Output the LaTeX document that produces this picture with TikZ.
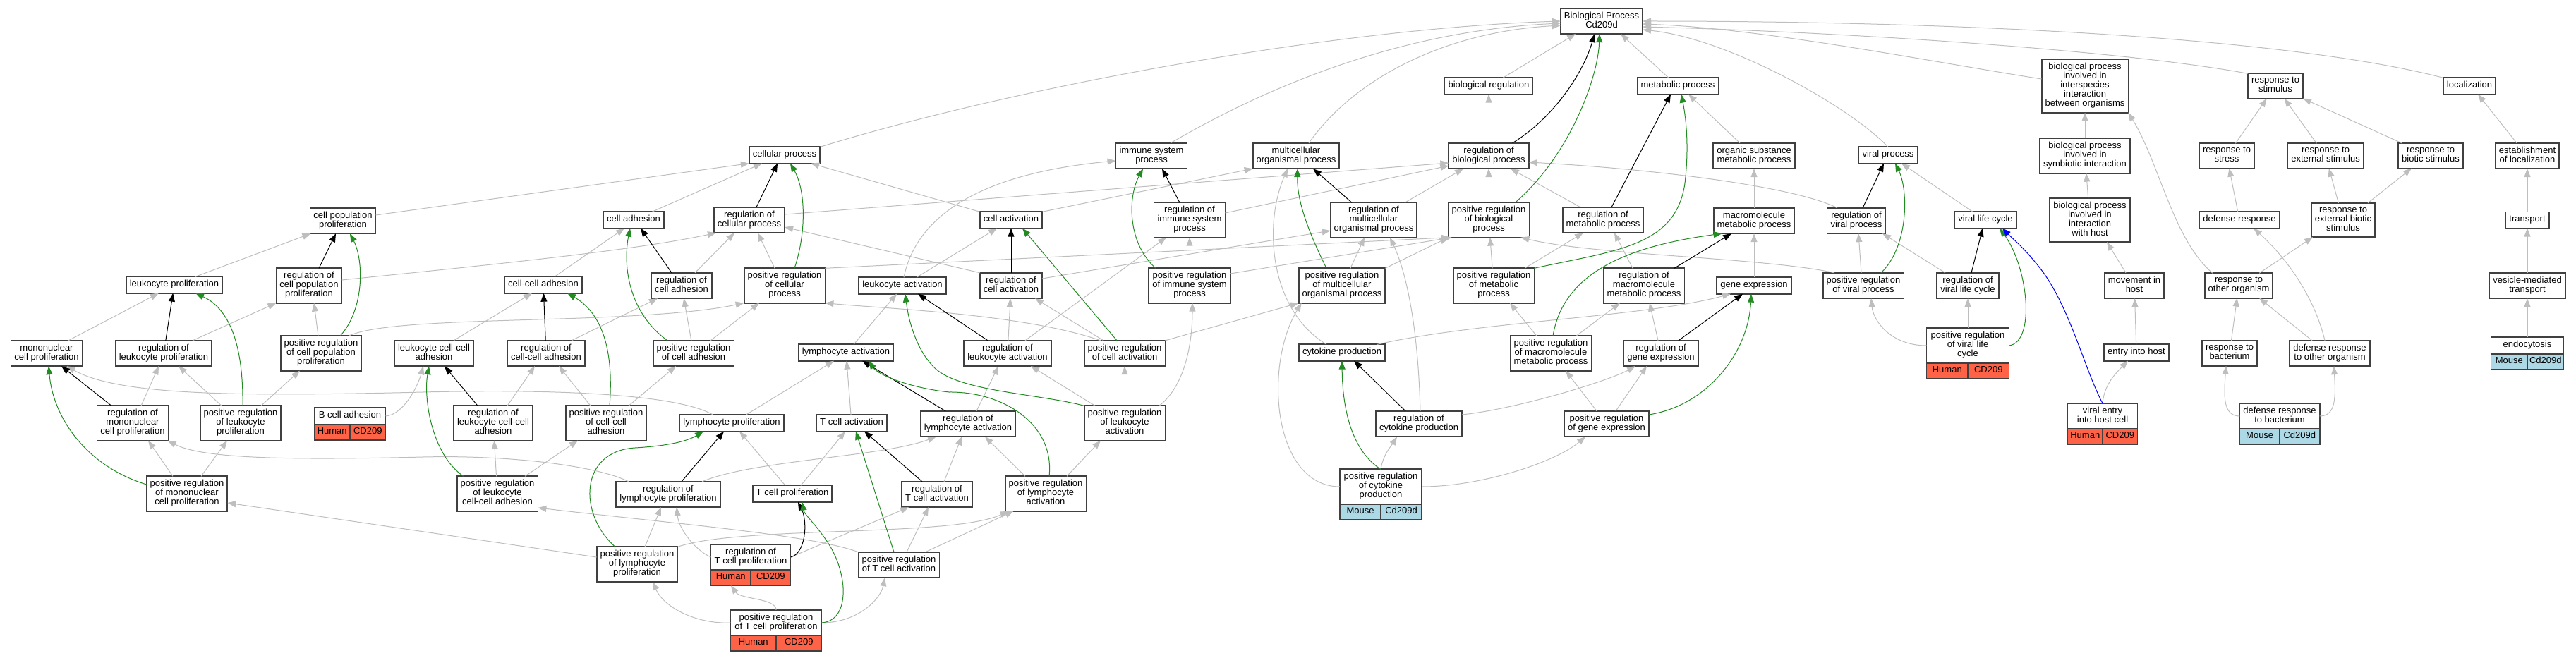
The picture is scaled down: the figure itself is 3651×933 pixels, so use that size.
\documentclass[tikz,border=0pt]{standalone}
\usepackage{fontspec}
\setmainfont{Liberation Sans}
\usepackage{xcolor}
\usetikzlibrary{arrows.meta,calc}
\definecolor{edgegray}{RGB}{190,190,190}
\definecolor{posgreen}{RGB}{34,139,34}
\definecolor{humanred}{RGB}{255,99,71}
\definecolor{mouseblue}{RGB}{173,216,230}
\definecolor{boxline}{gray}{0.25}

\tikzset{
    term/.style={draw=boxline, line width=1.8pt, fill=white, align=center,
        inner xsep=5pt, inner ysep=5pt, outer sep=0pt,
        font=\fontsize{13}{13}\selectfont,
        execute at begin node=\strut, execute at end node=\strut},
    human/.style={draw=boxline, line width=1.8pt, fill=humanred,
        inner sep=0pt, outer sep=0pt, minimum height=22pt,
        font=\fontsize{13}{13}\selectfont, text height=9.1pt, text depth=3.9pt},
    mouse/.style={human, fill=mouseblue},
    isa/.style={draw=edgegray, line width=1pt, -{Triangle[length=12pt,width=9pt]}},
    regs/.style={isa, draw=black},
    posregs/.style={isa, draw=posgreen},
    partof/.style={isa, draw=blue}
}

% species row under an annotated term
\newcommand{\taxa}[4]{%
    \path let \p1=($(#1.east)-(#1.west)$) in
        node [#2, anchor=north east, minimum width=0.5*\x1] (#1-a) at (#1.south) {#3}
        node [#2, anchor=north west, minimum width=0.5*\x1] (#1-b) at (#1.south) {#4};
}

\begin{document}
\begin{tikzpicture}[x=1pt, y=-1pt]
    \useasboundingbox (0,0) rectangle (3651,933);

    % terms, rank by rank
    \node [term] (bp) at (2270,30) {Biological Process\\Cd209d};

    \node [term] (bioreg) at (2110,122) {biological regulation};
    \node [term] (metab) at (2378,122) {metabolic process};
    \node [term] (interspec) at (2955,122) {biological process\\involved in\\interspecies\\interaction\\between organisms};
    \node [term] (resstim) at (3225,122) {response to\\stimulus};
    \node [term] (local) at (3500,122) {localization};

    \node [term] (cellproc) at (1112,220) {cellular process};
    \node [term] (immune) at (1632,221) {immune system\\process};
    \node [term] (multi) at (1837,221) {multicellular\\organismal process};
    \node [term] (regbio) at (2110,221) {regulation of\\biological process};
    \node [term] (orgsub) at (2486,221) {organic substance\\metabolic process};
    \node [term] (viral) at (2676,220) {viral process};
    \node [term] (symb) at (2955,221) {biological process\\involved in\\symbiotic interaction};
    \node [term] (resstress) at (3156,221) {response to\\stress};
    \node [term] (resext) at (3296,221) {response to\\external stimulus};
    \node [term] (resbiotic) at (3445,221) {response to\\biotic stimulus};
    \node [term] (estloc) at (3582,221) {establishment\\of localization};

    \node [term] (cellpop) at (486,313) {cell population\\proliferation};
    \node [term] (celladh) at (898,312) {cell adhesion};
    \node [term] (regcellproc) at (1062,312) {regulation of\\cellular process};
    \node [term] (cellact) at (1433,312) {cell activation};
    \node [term] (regimmune) at (1686,312) {regulation of\\immune system\\process};
    \node [term] (regmulti) at (1947,312) {regulation of\\multicellular\\organismal process};
    \node [term] (posbio) at (2110,312) {positive regulation\\of biological\\process};
    \node [term] (regmetab) at (2272,312) {regulation of\\metabolic process};
    \node [term] (macro) at (2486,313) {macromolecule\\metabolic process};
    \node [term] (regviral) at (2631,313) {regulation of\\viral process};
    \node [term] (vlc) at (2814,312) {viral life cycle};
    \node [term] (hostint) at (2962,312) {biological process\\involved in\\interaction\\with host};
    \node [term] (defresp) at (3174,312) {defense response};
    \node [term] (resextbiotic) at (3321,312) {response to\\external biotic\\stimulus};
    \node [term] (transport) at (3582,312) {transport};

    \node [term] (leukprolif) at (247,404) {leukocyte proliferation};
    \node [term] (regcellpop) at (438,405) {regulation of\\cell population\\proliferation};
    \node [term] (ccadh) at (770,404) {cell-cell adhesion};
    \node [term] (regcelladh) at (966,405) {regulation of\\cell adhesion};
    \node [term] (poscellproc) at (1112,405) {positive regulation\\of cellular\\process};
    \node [term] (leukact) at (1279,405) {leukocyte activation};
    \node [term] (regcellact) at (1433,405) {regulation of\\cell activation};
    \node [term] (posimmune) at (1686,405) {positive regulation\\of immune system\\process};
    \node [term] (posmulti) at (1902,405) {positive regulation\\of multicellular\\organismal process};
    \node [term] (posmetab) at (2117,405) {positive regulation\\of metabolic\\process};
    \node [term] (regmacro) at (2330,405) {regulation of\\macromolecule\\metabolic process};
    \node [term] (geneexp) at (2486,405) {gene expression};
    \node [term] (posviral) at (2641,405) {positive regulation\\of viral process};
    \node [term] (regvlc) at (2789,405) {regulation of\\viral life cycle};
    \node [term] (movhost) at (3025,405) {movement in\\host};
    \node [term] (resother) at (3173,405) {response to\\other organism};
    \node [term] (vesicle) at (3582,405) {vesicle-mediated\\transport};

    \node [term] (mononuc) at (66,501) {mononuclear\\cell proliferation};
    \node [term] (regleukprolif) at (232,501) {regulation of\\leukocyte proliferation};
    \node [term] (poscellpop) at (455,501) {positive regulation\\of cell population\\proliferation};
    \node [term] (leukccadh) at (615,501) {leukocyte cell-cell\\adhesion};
    \node [term] (regccadh) at (774,501) {regulation of\\cell-cell adhesion};
    \node [term] (poscelladh) at (983,501) {positive regulation\\of cell adhesion};
    \node [term] (lymphact) at (1199,500) {lymphocyte activation};
    \node [term] (regleukact) at (1428,501) {regulation of\\leukocyte activation};
    \node [term] (poscellact) at (1594,501) {positive regulation\\of cell activation};
    \node [term] (cytok) at (1902,500) {cytokine production};
    \node [term] (posmacro) at (2198,501) {positive regulation\\of macromolecule\\metabolic process};
    \node [term] (reggene) at (2354,501) {regulation of\\gene expression};
    \node [term, minimum width=117pt] (posvlc) at (2789,490) {positive regulation\\of viral life\\cycle};
    \node [term] (entryhost) at (3028,500) {entry into host};
    \node [term] (resbact) at (3160,501) {response to\\bacterium};
    \node [term] (defother) at (3302,501) {defense response\\to other organism};
    \node [term, minimum width=103pt] (endocyt) at (3582,490) {endocytosis};

    \node [term] (regmononuc) at (188,600) {regulation of\\mononuclear\\cell proliferation};
    \node [term] (posleukprolif) at (341,600) {positive regulation\\of leukocyte\\proliferation};
    \node [term, minimum width=101pt] (bcelladh) at (496,590) {B cell adhesion};
    \node [term] (regleukccadh) at (699,600) {regulation of\\leukocyte cell-cell\\adhesion};
    \node [term] (posccadh) at (859,600) {positive regulation\\of cell-cell\\adhesion};
    \node [term] (lymphprolif) at (1037,600) {lymphocyte proliferation};
    \node [term] (tcellact) at (1207,600) {T cell activation};
    \node [term] (reglymphact) at (1372,601) {regulation of\\lymphocyte activation};
    \node [term] (posleukact) at (1594,600) {positive regulation\\of leukocyte\\activation};
    \node [term] (regcytok) at (2011,601) {regulation of\\cytokine production};
    \node [term] (posgene) at (2277,601) {positive regulation\\of gene expression};
    \node [term, minimum width=99pt] (viralentry) at (2980,590) {viral entry\\into host cell};
    \node [term, minimum width=113pt] (defbact) at (3231,590) {defense response\\to bacterium};

    \node [term] (posmononuc) at (265,700) {positive regulation\\of mononuclear\\cell proliferation};
    \node [term] (posleukccadh) at (705,700) {positive regulation\\of leukocyte\\cell-cell adhesion};
    \node [term] (reglymphprolif) at (947,701) {regulation of\\lymphocyte proliferation};
    \node [term] (tcellprolif) at (1123,700) {T cell proliferation};
    \node [term] (regtcellact) at (1328,701) {regulation of\\T cell activation};
    \node [term] (poslymphact) at (1482,700) {positive regulation\\of lymphocyte\\activation};
    \node [term, minimum width=116pt] (poscytok) at (1957,690) {positive regulation\\of cytokine\\production};

    \node [term] (poslymphprolif) at (903,800) {positive regulation\\of lymphocyte\\proliferation};
    \node [term, minimum width=113pt] (regtcellprolif) at (1064,790) {regulation of\\T cell proliferation};
    \node [term] (postcellact) at (1274,801) {positive regulation\\of T cell activation};

    \node [term, minimum width=129pt] (postcellprolif) at (1100,883) {positive regulation\\of T cell proliferation};

    % annotations
    \taxa{bcelladh}{human}{Human}{CD209}
    \taxa{posvlc}{human}{Human}{CD209}
    \taxa{viralentry}{human}{Human}{CD209}
    \taxa{regtcellprolif}{human}{Human}{CD209}
    \taxa{postcellprolif}{human}{Human}{CD209}
    \taxa{poscytok}{mouse}{Mouse}{Cd209d}
    \taxa{defbact}{mouse}{Mouse}{Cd209d}
    \taxa{endocyt}{mouse}{Mouse}{Cd209d}

    % is_a
    \draw [isa] ([xshift=20pt]bioreg.north) -- ([xshift=-37pt]bp.south);
    \draw [isa] ([xshift=-13pt]metab.north) -- ([xshift=27pt]bp.south);
    \draw [isa] ([yshift=10pt]interspec.west) .. controls (2750,90) and (2500,40) .. ([yshift=-4pt]bp.east);
    \draw [isa] (resstim.north west) .. controls (3000,70) and (2600,45) .. ([yshift=-8pt]bp.east);
    \draw [isa] (local.north west) .. controls (3250,55) and (2800,30) .. (bp.east);
    \draw [isa] (viral.north) .. controls (2620,150) and (2450,55) .. ([yshift=-12pt]bp.east);
    \draw [isa] (cellproc.north east) .. controls (1450,120) and (1900,40) .. (bp.west);
    \draw [isa] ([xshift=27pt]immune.north) .. controls (1750,150) and (1950,45) .. ([yshift=-3pt]bp.west);
    \draw [isa] ([xshift=18pt]multi.north) .. controls (1920,110) and (2050,45) .. ([yshift=-6pt]bp.west);
    \draw [isa] (regbio) -- (bioreg);
    \draw [isa] (posbio) -- (regbio);
    \draw [isa] ([xshift=-20pt]orgsub.north) -- ([xshift=15pt]metab.south);
    \draw [isa] (macro) -- (orgsub);
    \draw [isa] (geneexp) -- (macro);
    \draw [isa] ([xshift=-16pt]regmacro.north) -- ([xshift=16pt]regmetab.south);
    \draw [isa] ([xshift=-4pt]reggene.north) -- ([xshift=8pt]regmacro.south);
    \draw [isa] ([xshift=36pt]posmacro.north) -- ([xshift=-34pt]regmacro.south);
    \draw [isa] ([xshift=-20pt]posmacro.north) -- ([xshift=23pt]posmetab.south);
    \draw [isa] ([xshift=13pt]posgene.north) -- ([xshift=-20pt]reggene.south);
    \draw [isa] ([xshift=-14pt]posgene.north) -- ([xshift=21pt]posmacro.south);
    \draw [isa] ([xshift=44pt]posmetab.north) -- ([xshift=-28pt]regmetab.south);
    \draw [isa] (posmetab) -- (posbio);
    \draw [isa] ([xshift=-32pt]regmetab.north) -- ([xshift=31pt]regbio.south);
    \draw [isa] ([xshift=44pt]regmulti.north) -- ([xshift=-36pt]regbio.south);
    \draw [isa] ([xshift=12pt]posmulti.north) -- ([xshift=-13pt]regmulti.south);
    \draw [isa] (posmulti.north east) -- (posbio.south west);
    \draw [isa] ([xshift=-22pt]cytok.north) .. controls (1800,440) and (1790,320) .. ([xshift=-12pt]multi.south);
    \draw [isa] ([xshift=50pt]cytok.north) .. controls (2100,455) and (2330,450) .. ([xshift=-33pt]geneexp.south);
    \draw [isa] ([xshift=2pt]regcytok.north) .. controls (2010,470) and (1995,390) .. ([xshift=23pt]regmulti.south);
    \draw [isa] ([yshift=13pt]regcytok.east) .. controls (2150,580) and (2280,540) .. ([xshift=-36pt]reggene.south);
    \draw [isa] (poscytok.north) .. controls (1960,645) and (1972,632) .. ([xshift=-31pt]regcytok.south);
    \draw [isa] (poscytok.east) .. controls (2100,690) and (2205,655) .. ([xshift=-30pt]posgene.south);
    \draw [isa] (poscytok.west) .. controls (1805,690) and (1790,520) .. ([xshift=4pt]posmulti.south west);
    \draw [isa] (cellact.north east) -- (multi.south west);
    \draw [isa] ([yshift=10pt]regcellact.east) -- ([yshift=-15pt]regmulti.west);
    \draw [isa] (poscellact.north east) -- (posmulti.south west);
    \draw [isa] ([yshift=8pt]regcellproc.east) -- ([yshift=-10pt]regbio.west);
    \draw [isa] ([yshift=10pt]regimmune.east) -- ([yshift=-14pt]regbio.west);
    \draw [isa] ([xshift=-27pt]regviral.north) .. controls (2545,265) and (2350,240) .. ([yshift=-9pt]regbio.east);
    \draw [isa] (poscellproc.north east) -- ([xshift=2pt]posbio.south west);
    \draw [isa] ([yshift=17pt]posimmune.east) -- ([xshift=5pt]posbio.south west);
    \draw [isa] ([xshift=-41pt]posviral.north) .. controls (2500,365) and (2260,362) .. ([xshift=-12pt]posbio.south east);
    \draw [isa] ([xshift=-3pt]posviral.north) -- ([xshift=3pt]regviral.south);
    \draw [isa] ([xshift=-18pt]vlc.north) -- ([xshift=19pt]viral.south);
    \draw [isa] ([xshift=-32pt]regvlc.north) -- ([xshift=37pt]regviral.south);
    \draw [isa] (posvlc) -- (regvlc);
    \draw [isa] (posvlc.west) .. controls (2680,490) and (2655,455) .. ([xshift=11pt]posviral.south);
    \draw [isa] (viralentry.north) .. controls (2982,545) and (3000,528) .. ([xshift=-12pt]entryhost.south);
    \draw [isa] (entryhost) -- (movhost);
    \draw [isa] ([xshift=-12pt]movhost.north) -- ([xshift=24pt]hostint.south);
    \draw [isa] (hostint) -- (symb);
    \draw [isa] (symb) -- (interspec);
    \draw [isa] ([xshift=-37pt]resother.north) .. controls (3080,340) and (3060,230) .. (interspec.south east);
    \draw [isa] ([xshift=29pt]resother.north) -- ([xshift=-43pt]resextbiotic.south);
    \draw [isa] (resbact) -- (resother);
    \draw [isa] ([xshift=-25pt]defother.north) -- ([xshift=29pt]resother.south);
    \draw [isa] ([xshift=-7pt]defother.north) .. controls (3280,420) and (3240,365) .. ([xshift=20pt]defresp.south);
    \draw [isa] (defbact.west) .. controls (3150,590) and (3152,560) .. ([xshift=-5pt]resbact.south);
    \draw [isa] (defbact.east) .. controls (3312,590) and (3310,560) .. ([xshift=6pt]defother.south);
    \draw [isa] (defresp) -- (resstress);
    \draw [isa] (resextbiotic) -- (resext);
    \draw [isa] ([xshift=35pt]resextbiotic.north) -- ([xshift=-27pt]resbiotic.south);
    \draw [isa] (resstress) -- (resstim);
    \draw [isa] (resext) -- (resstim);
    \draw [isa] ([xshift=-40pt]resbiotic.north) -- (resstim.south east);
    \draw [isa] ([xshift=-15pt]estloc.north) -- ([xshift=12pt]local.south);
    \draw [isa] (transport) -- (estloc);
    \draw [isa] (vesicle) -- (transport);
    \draw [isa] (endocyt) -- (vesicle);
    \draw [isa] (posimmune) -- (regimmune);
    \draw [isa] ([xshift=25pt]regleukact.north) -- ([xshift=-33pt]regimmune.south);
    \draw [isa] ([xshift=49pt]posleukact.north) .. controls (1682,545) and (1690,480) .. ([xshift=4pt]posimmune.south);
    \draw [isa] ([xshift=2pt]leukact.north) .. controls (1300,300) and (1400,245) .. ([yshift=-7pt]immune.west);
    \draw [isa] ([xshift=20pt]leukact.north) -- ([xshift=-20pt]cellact.south);
    \draw [isa] (cellact.north west) -- ([xshift=-13pt]cellproc.south east);
    \draw [isa] (regcellact.north west) -- ([yshift=-10pt]regcellproc.east);
    \draw [isa] ([xshift=-30pt]poscellact.north) -- ([xshift=34pt]regcellact.south);
    \draw [isa] ([xshift=-34pt]poscellact.north) .. controls (1450,445) and (1260,438) .. (poscellproc.south east);
    \draw [isa] ([xshift=11pt]lymphact.north) -- ([xshift=-8pt]leukact.south);
    \draw [isa] (regleukact) -- (regcellact);
    \draw [isa] ([xshift=-42pt]posleukact.north) -- ([xshift=33pt]regleukact.south);
    \draw [isa] (posleukact) -- (poscellact);
    \draw [isa] ([xshift=12pt]reglymphact.north) -- ([xshift=-13pt]regleukact.south);
    \draw [isa] ([xshift=-29pt]poslymphact.north) -- ([xshift=24pt]reglymphact.south);
    \draw [isa] ([xshift=30pt]poslymphact.north) -- ([xshift=-34pt]posleukact.south);
    \draw [isa] (tcellact) -- (lymphact);
    \draw [isa] ([xshift=20pt]lymphprolif.north) -- ([xshift=-17pt]lymphact.south);
    \draw [isa] ([xshift=-10pt]tcellprolif.north) -- ([xshift=11pt]lymphprolif.south);
    \draw [isa] ([xshift=12pt]tcellprolif.north) -- ([xshift=-9pt]tcellact.south);
    \draw [isa] ([xshift=10pt]regtcellact.north) -- ([xshift=-9pt]reglymphact.south);
    \draw [isa] ([xshift=11pt]postcellact.north) -- ([xshift=-12pt]regtcellact.south);
    \draw [isa] ([xshift=-20pt]postcellact.north east) -- ([xshift=12pt]poslymphact.south west);
    \draw [isa] (postcellact.north west) .. controls (1150,758) and (950,742) .. ([yshift=-20pt]posleukccadh.east);
    \draw [isa] ([xshift=48pt]reglymphprolif.north) .. controls (1070,652) and (1250,648) .. ([xshift=-45pt]reglymphact.south);
    \draw [isa] ([xshift=-56pt]reglymphprolif.north) .. controls (845,660) and (720,645) .. (600,648)
        .. controls (430,652) and (290,652) .. ([xshift=-1pt]regmononuc.south east);
    \draw [isa] ([xshift=-26pt]lymphprolif.north) .. controls (955,556) and (760,552) .. (600,556)
        .. controls (350,562) and (170,562) .. ([xshift=-22pt]mononuc.south east);
    \draw [isa] ([yshift=10pt]poslymphprolif.west) -- ([yshift=-13pt]posmononuc.east);
    \draw [isa] (poslymphprolif.north east) .. controls (1050,745) and (1350,762) .. ([xshift=5pt]poslymphact.south west);
    \draw [isa] ([xshift=11pt]poslymphprolif.north) -- ([xshift=-10pt]reglymphprolif.south);
    \draw [isa] (regtcellprolif.west) .. controls (985,780) and (962,750) .. ([xshift=12pt]reglymphprolif.south);
    \draw [isa] (regtcellprolif.east) -- ([xshift=-40pt]regtcellact.south);
    \draw [isa] (postcellprolif.west) .. controls (985,885) and (940,860) .. ([xshift=22pt]poslymphprolif.south);
    \draw [isa] (postcellprolif.north) .. controls (1100,848) and (1050,850) .. (regtcellprolif-a.south);
    \draw [isa] (postcellprolif.east) .. controls (1215,883) and (1248,850) .. ([xshift=-20pt]postcellact.south);
    \draw [isa] ([yshift=8pt]cellpop.east) -- (cellproc.south west);
    \draw [isa] ([yshift=8pt]regcellpop.east) .. controls (700,375) and (900,355) .. ([xshift=-47pt]regcellproc.south);
    \draw [isa] ([xshift=-4pt]poscellpop.north) -- ([xshift=7pt]regcellpop.south);
    \draw [isa] ([xshift=39pt]poscellpop.north) .. controls (560,445) and (900,462) .. (poscellproc.south west);
    \draw [isa] ([xshift=30pt]leukprolif.north) -- ([xshift=1pt]cellpop.south west);
    \draw [isa] ([xshift=31pt]mononuc.north) -- ([xshift=-22pt]leukprolif.south);
    \draw [isa] ([xshift=41pt]regleukprolif.north) -- (regcellpop.south west);
    \draw [isa] ([xshift=-27pt]posleukprolif.north) -- ([xshift=21pt]regleukprolif.south);
    \draw [isa] ([xshift=29pt]posleukprolif.north) -- ([xshift=-30pt]poscellpop.south);
    \draw [isa] ([xshift=12pt]regmononuc.north) -- ([xshift=-7pt]regleukprolif.south);
    \draw [isa] ([xshift=-20pt]posmononuc.north) -- ([xshift=22pt]regmononuc.south);
    \draw [isa] ([xshift=20pt]posmononuc.north) -- ([xshift=-19pt]posleukprolif.south);
    \draw [isa] (bcelladh.east) .. controls (572,588) and (592,548) .. ([xshift=-15pt]leukccadh.south);
    \draw [isa] ([xshift=28pt]leukccadh.north) -- ([xshift=-16pt]ccadh.south);
    \draw [isa] ([xshift=20pt]regleukccadh.north) -- ([xshift=-16pt]regccadh.south);
    \draw [isa] (posleukccadh) -- (regleukccadh);
    \draw [isa] ([xshift=39pt]posleukccadh.north) -- ([xshift=-40pt]posccadh.south);
    \draw [isa] ([xshift=16pt]ccadh.north) -- ([xshift=-13pt]celladh.south);
    \draw [isa] ([xshift=36pt]regccadh.north) -- ([xshift=-34pt]regcelladh.south);
    \draw [isa] ([xshift=-22pt]posccadh.north) -- ([xshift=18pt]regccadh.south);
    \draw [isa] ([xshift=32pt]posccadh.north) -- ([xshift=-25pt]poscelladh.south);
    \draw [isa] ([xshift=26pt]celladh.north) -- ([xshift=-32pt]cellproc.south);
    \draw [isa] ([xshift=19pt]regcelladh.north) -- ([xshift=-21pt]regcellproc.south);
    \draw [isa] (poscelladh) -- (regcelladh);
    \draw [isa] ([xshift=24pt]poscelladh.north) -- ([xshift=-36pt]poscellproc.south);
    \draw [isa] ([xshift=-14pt]poscellproc.north) -- ([xshift=12pt]regcellproc.south);

    % regulates
    \draw [regs] ([xshift=-23pt]regbio.north east) .. controls (2205,165) and (2245,100) .. ([xshift=-10pt]bp.south);
    \draw [regs] ([xshift=14pt]regcellpop.north) -- ([xshift=-10pt]cellpop.south);
    \draw [regs] (regleukprolif) -- (leukprolif);
    \draw [regs] ([xshift=-30pt]regmononuc.north) -- ([xshift=21pt]mononuc.south);
    \draw [regs] ([xshift=-22pt]regleukccadh.north) -- ([xshift=15pt]leukccadh.south);
    \draw [regs] (regccadh) -- (ccadh);
    \draw [regs] ([xshift=-14pt]regcelladh.north) -- ([xshift=10pt]celladh.south);
    \draw [regs] ([xshift=10pt]regcellproc.north) -- ([xshift=-10pt]cellproc.south);
    \draw [regs] (regcellact) -- (cellact);
    \draw [regs] ([xshift=-28pt]regleukact.north) -- ([xshift=22pt]leukact.south);
    \draw [regs] ([xshift=-32pt]reglymphact.north) -- ([xshift=23pt]lymphact.south);
    \draw [regs] ([xshift=19pt]reglymphprolif.north) -- ([xshift=-11pt]lymphprolif.south);
    \draw [regs] (regtcellprolif.east) .. controls (1142,785) and (1145,740) .. ([xshift=8pt]tcellprolif.south);
    \draw [regs] ([xshift=-21pt]regtcellact.north) -- ([xshift=18pt]tcellact.south);
    \draw [regs] ([xshift=-14pt]regimmune.north) -- ([xshift=15pt]immune.south);
    \draw [regs] ([xshift=-31pt]regmulti.north) -- ([xshift=24pt]multi.south);
    \draw [regs] ([xshift=12pt]regmetab.north) -- ([xshift=-10pt]metab.south);
    \draw [regs] ([xshift=43pt]regmacro.north) -- ([xshift=-32pt]macro.south);
    \draw [regs] ([xshift=25pt]reggene.north) -- ([xshift=-16pt]geneexp.south);
    \draw [regs] ([xshift=-19pt]regcytok.north) -- ([xshift=17pt]cytok.south);
    \draw [regs] ([xshift=9pt]regviral.north) -- ([xshift=-6pt]viral.south);
    \draw [regs] ([xshift=5pt]regvlc.north) -- ([xshift=-4pt]vlc.south);

    % positively regulates
    \draw [posregs] ([xshift=-20pt]posbio.north east) .. controls (2225,220) and (2265,110) .. ([xshift=-3pt]bp.south);
    \draw [posregs] ([xshift=27pt]poscellpop.north) .. controls (516,440) and (516,370) .. ([xshift=10pt]cellpop.south);
    \draw [posregs] ([xshift=3pt]posleukprolif.north) .. controls (345,500) and (330,440) .. ([xshift=30pt]leukprolif.south);
    \draw [posregs] ([yshift=13pt]posmononuc.west) .. controls (120,660) and (75,590) .. ([xshift=3pt]mononuc.south);
    \draw [posregs] ([xshift=-48pt]posleukccadh.north) .. controls (612,645) and (600,565) .. ([xshift=-7pt]leukccadh.south);
    \draw [posregs] ([xshift=5pt]posccadh.north) .. controls (870,500) and (855,445) .. ([xshift=34pt]ccadh.south);
    \draw [posregs] ([xshift=-37pt]poscelladh.north) .. controls (893,445) and (882,380) .. ([xshift=-5pt]celladh.south);
    \draw [posregs] ([xshift=14pt]poscellproc.north) .. controls (1143,330) and (1142,270) .. ([xshift=8pt]cellproc.south);
    \draw [posregs] ([xshift=-11pt]poscellact.north) -- ([xshift=16pt]cellact.south);
    \draw [posregs] (posleukact.north west) .. controls (1470,558) and (1360,555) .. (1325,522)
        .. controls (1297,495) and (1287,450) .. ([xshift=4pt]leukact.south);
    \draw [posregs] ([xshift=5pt]poslymphact.north) .. controls (1495,600) and (1420,555) .. (1345,556)
        .. controls (1290,550) and (1245,532) .. ([xshift=32pt]lymphact.south);
    \draw [posregs] ([xshift=-31pt]poslymphprolif.north) .. controls (820,730) and (820,640) .. (900,635)
        .. controls (950,632) and (975,625) .. ([xshift=-40pt]lymphprolif.south);
    \draw [posregs] (postcellprolif.east) .. controls (1205,880) and (1202,815) .. (1175,772)
        .. controls (1158,745) and (1140,730) .. ([xshift=14pt]tcellprolif.south);
    \draw [posregs] ([xshift=-7pt]postcellact.north) -- ([xshift=6pt]tcellact.south);
    \draw [posregs] ([xshift=-48pt]posimmune.north) .. controls (1598,345) and (1598,280) .. ([xshift=-12pt]immune.south);
    \draw [posregs] ([xshift=-22pt]posmulti.north) .. controls (1855,330) and (1838,285) .. ([xshift=2pt]multi.south);
    \draw [posregs] (posmetab.north east) .. controls (2290,355) and (2375,350) .. (2388,260)
        .. controls (2395,200) and (2388,160) .. ([xshift=5pt]metab.south);
    \draw [posregs] ([xshift=3pt]posmacro.north) .. controls (2215,390) and (2300,350) .. ([xshift=12pt]macro.south west);
    \draw [posregs] ([yshift=13pt]posgene.east) .. controls (2420,575) and (2478,500) .. ([xshift=-4pt]geneexp.south);
    \draw [posregs] (poscytok.north) .. controls (1925,645) and (1903,600) .. (cytok.south);
    \draw [posregs] ([xshift=25pt]posviral.north) .. controls (2705,350) and (2705,270) .. ([xshift=10pt]viral.south);
    \draw [posregs] (posvlc.east) .. controls (2885,485) and (2875,380) .. ([xshift=20pt]vlc.south);

    % part_of
    \draw [partof] (viralentry.north) .. controls (2955,525) and (2935,440) .. (2895,385)
        .. controls (2870,352) and (2852,338) .. ([xshift=24pt]vlc.south);
\end{tikzpicture}
\end{document}
